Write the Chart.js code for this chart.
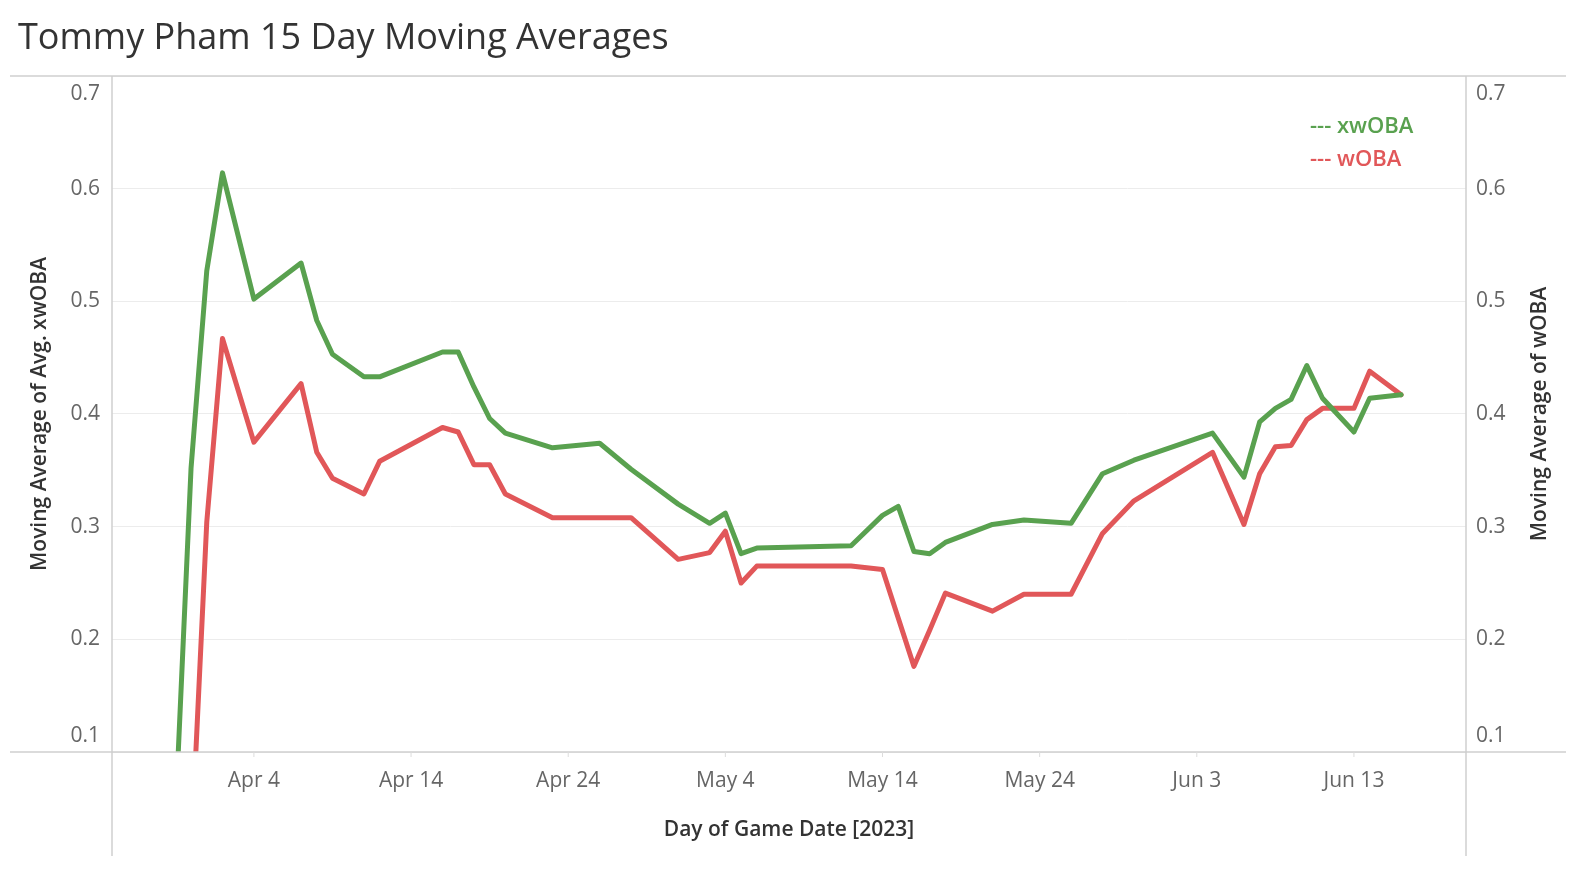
<!DOCTYPE html>
<html>
<head>
<meta charset="utf-8">
<title>Tommy Pham 15 Day Moving Averages</title>
<script src="https://cdn.jsdelivr.net/npm/chart.js@4.4.1/dist/chart.umd.min.js"></script>
<style>
  html, body { margin: 0; padding: 0; background: #fff; }
  #wrap { position: relative; width: 1580px; height: 874px; }
</style>
</head>
<body>
<div id="wrap"><canvas id="chart" width="1580" height="874"></canvas></div>
<script>
// game dates (2023) and 15 day moving averages
const gameDates = [
  "2023-03-30", "2023-03-31", "2023-04-01", "2023-04-02", "2023-04-04",
  "2023-04-07", "2023-04-08", "2023-04-09", "2023-04-11", "2023-04-12",
  "2023-04-16", "2023-04-17", "2023-04-18", "2023-04-19", "2023-04-20",
  "2023-04-23", "2023-04-26", "2023-04-28", "2023-05-01", "2023-05-03",
  "2023-05-04", "2023-05-05", "2023-05-06", "2023-05-12", "2023-05-14",
  "2023-05-15", "2023-05-16", "2023-05-17", "2023-05-18", "2023-05-21",
  "2023-05-23", "2023-05-26", "2023-05-28", "2023-05-30", "2023-06-04",
  "2023-06-06", "2023-06-07", "2023-06-08", "2023-06-09", "2023-06-10",
  "2023-06-11", "2023-06-13", "2023-06-14", "2023-06-16"
];

const xwobaValues = [
  0.042, 0.352, 0.527, 0.614, 0.502,
  0.534, 0.483, 0.453, 0.433, 0.433,
  0.455, 0.455, 0.424, 0.396, 0.383,
  0.370, 0.374, 0.351, 0.320, 0.303,
  0.312, 0.276, 0.281, 0.283, 0.310,
  0.318, 0.278, 0.276, 0.286, 0.302,
  0.306, 0.303, 0.347, 0.359, 0.383,
  0.344, 0.393, 0.405, 0.413, 0.443,
  0.414, 0.384, 0.414, 0.417
];

const wobaValues = [
  null, 0.010, 0.304, 0.467, 0.375,
  0.427, 0.366, 0.343, 0.329, 0.358,
  0.388, 0.384, 0.355, 0.355, 0.329,
  0.308, 0.308, 0.308, 0.271, 0.277,
  0.296, 0.250, 0.265, 0.265, 0.262,
  0.219, 0.176, 0.208, 0.241, 0.225,
  0.240, 0.240, 0.294, 0.323, 0.366,
  0.302, 0.347, 0.371, 0.372, 0.395,
  0.405, 0.405, 0.438, 0.417
];

const yTicks = [0.1, 0.2, 0.3, 0.4, 0.5, 0.6, 0.7];
const xTickDates = ["2023-04-04", "2023-04-14", "2023-04-24", "2023-05-04",
  "2023-05-14", "2023-05-24", "2023-06-03", "2023-06-13"];
const xTickLabels = ["Apr 4", "Apr 14", "Apr 24", "May 4", "May 14", "May 24", "Jun 3", "Jun 13"];

const GREEN = "#59a14f";
const RED = "#e15759";
const FONT = "'Open Sans', 'Noto Sans', sans-serif";

// days since opening day, used as the linear x value
function dayNum(str) {
  return (Date.parse(str) - Date.parse("2023-03-30")) / 86400000;
}

function toPoints(values) {
  return gameDates.map((d, i) => ({ x: dayNum(d), y: values[i] }));
}

// Tableau-like frame, axis labels, titles and the text legend
const framePlugin = {
  id: "frame",
  afterDraw(chart) {
    const ctx = chart.ctx;
    const area = chart.chartArea;
    const xs = chart.scales.x;
    const ys = chart.scales.y;

    ctx.save();
    ctx.strokeStyle = "#cfcfcf";
    ctx.lineWidth = 1.5;
    ctx.beginPath();
    ctx.moveTo(10, area.top);
    ctx.lineTo(1566, area.top);
    ctx.moveTo(10, area.bottom);
    ctx.lineTo(1566, area.bottom);
    ctx.moveTo(area.left, area.top);
    ctx.lineTo(area.left, 856);
    ctx.moveTo(area.right, area.top);
    ctx.lineTo(area.right, 856);
    ctx.stroke();

    // x tick marks + labels
    ctx.strokeStyle = "#dcdcdc";
    ctx.lineWidth = 1;
    ctx.fillStyle = "#666";
    ctx.font = "21px " + FONT;
    ctx.textAlign = "center";
    ctx.textBaseline = "middle";
    xTickDates.forEach((d, i) => {
      const px = xs.getPixelForValue(dayNum(d));
      ctx.beginPath();
      ctx.moveTo(px, area.bottom);
      ctx.lineTo(px, area.bottom + 5);
      ctx.stroke();
      ctx.fillText(xTickLabels[i], px, 781);
    });

    // y labels on both sides, end labels kept inside the pane
    yTicks.forEach((v) => {
      let py = ys.getPixelForValue(v);
      py = Math.min(Math.max(py, area.top + 18), area.bottom - 16);
      const txt = v.toFixed(1);
      ctx.textAlign = "right";
      ctx.fillText(txt, 100, py);
      ctx.textAlign = "left";
      ctx.fillText(txt, area.right + 10, py);
    });

    // axis titles
    ctx.fillStyle = "#333";
    ctx.font = "600 21px " + FONT;
    ctx.textAlign = "center";
    const midY = (area.top + area.bottom) / 2;
    ctx.fillText("Day of Game Date [2023]", (area.left + area.right) / 2, 830);

    ctx.save();
    ctx.translate(40, midY);
    ctx.rotate(-Math.PI / 2);
    ctx.fillText("Moving Average of Avg. xwOBA", 0, 0);
    ctx.restore();

    ctx.save();
    ctx.translate(1540, midY);
    ctx.rotate(-Math.PI / 2);
    ctx.fillText("Moving Average of wOBA", 0, 0);
    ctx.restore();

    // legend text
    ctx.font = "600 22px " + FONT;
    ctx.textAlign = "left";
    ctx.fillStyle = GREEN;
    ctx.fillText("--- xwOBA", 1310, 127);
    ctx.fillStyle = RED;
    ctx.fillText("--- wOBA", 1310, 160);

    // chart title
    ctx.fillStyle = "#333";
    ctx.font = "36px " + FONT;
    ctx.textBaseline = "alphabetic";
    ctx.fillText("Tommy Pham 15 Day Moving Averages", 18, 49);
    ctx.restore();
  },
};

const ctx = document.getElementById("chart").getContext("2d");

new Chart(ctx, {
  type: "line",
  data: {
    datasets: [
      {
        label: "xwOBA",
        data: toPoints(xwobaValues),
        borderColor: GREEN,
        borderWidth: 5,
        pointRadius: 0,
        tension: 0,
        clip: 0,
        borderJoinStyle: "round",
        borderCapStyle: "round",
      },
      {
        label: "wOBA",
        data: toPoints(wobaValues),
        borderColor: RED,
        borderWidth: 5,
        pointRadius: 0,
        tension: 0,
        clip: 0,
        borderJoinStyle: "round",
        borderCapStyle: "round",
      },
    ],
  },
  options: {
    responsive: false,
    animation: false,
    layout: {
      padding: { left: 112, right: 114, top: 76, bottom: 122 },
    },
    plugins: {
      legend: { display: false },
      tooltip: { enabled: false },
    },
    scales: {
      x: {
        type: "linear",
        min: -4.03,
        max: 82.13,
        grid: { display: false },
        border: { display: false },
        ticks: { display: false },
        afterFit(scale) {
          scale.height = 0;
        },
      },
      y: {
        min: 0.1,
        max: 0.7,
        afterBuildTicks(scale) {
          scale.ticks = yTicks.map((v) => ({ value: v }));
        },
        grid: { color: "#ececec", lineWidth: 1, drawTicks: false },
        border: { display: false },
        ticks: { display: false },
        afterFit(scale) {
          scale.width = 0;
        },
      },
    },
  },
  plugins: [framePlugin],
});
</script>
</body>
</html>
